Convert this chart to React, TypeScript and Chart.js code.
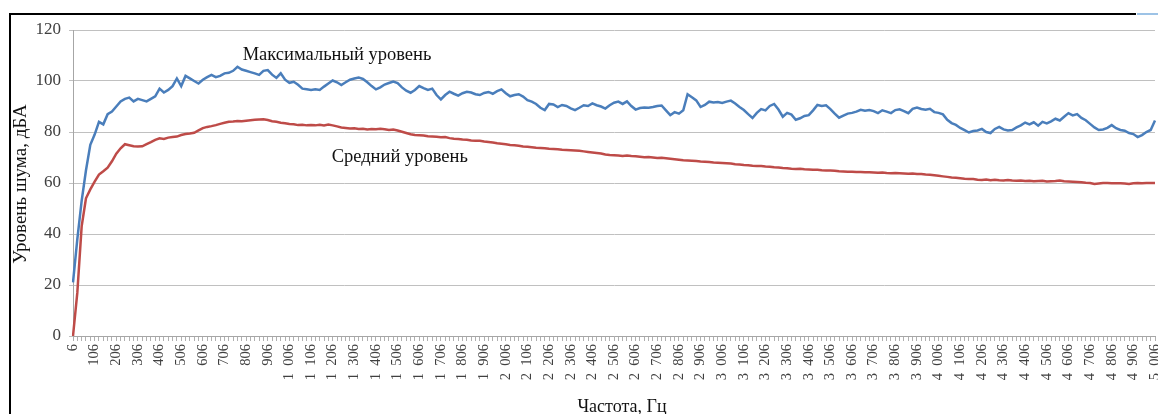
import { useEffect, useRef } from 'react';
import { Chart, registerables } from 'chart.js';

Chart.register(...registerables);

// Frequency grid: 6 Hz .. 5006 Hz, one sample every 20 Hz
const FREQ_START = 6;
const FREQ_STEP = 20;

// Максимальный уровень, дБА
const MAX_LEVEL = [
  21, 38, 53, 65, 75, 79, 84, 83, 87, 88,
  90, 92, 93, 93.5, 92, 93, 92.5, 92, 93, 94,
  97, 95.5, 96.5, 98, 101, 98, 102, 101, 100, 99,
  100.5, 101.5, 102.4, 101.5, 102, 103, 103.2, 104, 105.6, 104.5,
  104, 103.5, 103, 102.4, 104, 104.3, 102.5, 101.2, 103, 100.5,
  99.3, 99.7, 98.5, 97, 96.8, 96.5, 96.8, 96.5, 97.8, 99,
  100.2, 99.5, 98.4, 99.5, 100.5, 101, 101.4, 100.8, 99.5, 98,
  96.7, 97.5, 98.6, 99.2, 99.8, 99.2, 97.5, 96.2, 95.4, 96.5,
  98, 97.2, 96.5, 97, 94.5, 92.8, 94.5, 95.8, 95, 94.3,
  95.2, 95.8, 95.5, 94.8, 94.5, 95.3, 95.7, 95, 96, 96.7,
  95.2, 94, 94.5, 94.8, 93.9, 92.5, 91.9, 91, 89.5, 88.6,
  91, 90.8, 89.8, 90.6, 90.2, 89.3, 88.6, 89.5, 90.5, 90.2,
  91.2, 90.5, 90, 89.2, 90.5, 91.5, 91.9, 91, 92, 90.2,
  88.8, 89.4, 89.6, 89.5, 89.8, 90.2, 90.4, 88.5, 86.6, 87.8,
  87.2, 88.5, 94.8, 93.6, 92.4, 89.8, 90.6, 91.9, 91.6, 91.8,
  91.4, 91.9, 92.3, 91.2, 89.8, 88.6, 87, 85.5, 87.5, 89,
  88.5, 90.2, 91, 88.8, 86, 87.5, 86.8, 84.8, 85.4, 86.3,
  86.6, 88.5, 90.6, 90.2, 90.5, 89, 87.2, 85.6, 86.4, 87.2,
  87.5, 88, 88.7, 88.3, 88.6, 88.2, 87.4, 88.5, 88, 87.4,
  88.6, 88.9, 88.2, 87.4, 89.1, 89.6, 89, 88.7, 89.1, 87.8,
  87.5, 86.9, 84.8, 83.5, 82.8, 81.6, 80.7, 79.8, 80.4, 80.6,
  81.2, 80, 79.6, 81.2, 82, 81, 80.6, 80.8, 81.8, 82.6,
  83.7, 83, 83.8, 82.5, 84, 83.4, 84.2, 85.2, 84.5, 86,
  87.4, 86.5, 87, 85.5, 84.6, 83.2, 81.8, 80.8, 81, 81.6,
  82.7, 81.5, 80.8, 80.5, 79.6, 79.2, 78, 78.8, 80, 80.8,
  84.5,
];

// Средний уровень, дБА
const MEAN_LEVEL = [
  0, 17, 43, 54, 57.5, 60.5, 63.3, 64.6, 66, 68.5,
  71.5, 73.6, 75.2, 74.8, 74.4, 74.3, 74.4, 75.2, 76, 76.9,
  77.5, 77.3, 77.8, 78, 78.2, 78.8, 79.2, 79.4, 79.7, 80.6,
  81.5, 82, 82.3, 82.7, 83.2, 83.6, 84, 84.1, 84.3, 84.2,
  84.4, 84.6, 84.8, 84.9, 85, 84.7, 84.2, 84, 83.6, 83.4,
  83.1, 83, 82.7, 82.8, 82.6, 82.7, 82.6, 82.8, 82.6, 82.9,
  82.6, 82.2, 81.8, 81.6, 81.4, 81.5, 81.2, 81.3, 81, 81.2,
  81.1, 81.3, 81.1, 80.8, 81, 80.6, 80.1, 79.6, 79.1, 78.8,
  78.7, 78.6, 78.3, 78.2, 78.1, 77.9, 78, 77.6, 77.4, 77.3,
  77.1, 77, 76.7, 76.6, 76.6, 76.3, 76.1, 75.9, 75.6, 75.4,
  75.2, 74.9, 74.8, 74.6, 74.3, 74.2, 74, 73.8, 73.7, 73.6,
  73.4, 73.3, 73.2, 73, 72.9, 72.8, 72.7, 72.6, 72.4, 72.2,
  72, 71.8, 71.6, 71.2, 71, 70.9, 70.8, 70.6, 70.8, 70.6,
  70.5, 70.3, 70.1, 70.2, 70, 69.8, 69.9, 69.7, 69.5, 69.3,
  69.1, 68.9, 68.8, 68.7, 68.6, 68.4, 68.3, 68.2, 68, 67.9,
  67.8, 67.7, 67.6, 67.4, 67.3, 67.1, 67, 66.8, 66.7, 66.7,
  66.5, 66.4, 66.2, 66.1, 65.9, 65.8, 65.6, 65.5, 65.6, 65.4,
  65.3, 65.2, 65.2, 65, 64.9, 64.9, 64.8, 64.6, 64.5, 64.4,
  64.4, 64.3, 64.3, 64.2, 64.2, 64.1, 64, 64.1, 63.9, 63.8,
  63.9, 63.8, 63.7, 63.6, 63.7, 63.5, 63.5, 63.3, 63.2, 63,
  62.8, 62.6, 62.4, 62.2, 62.1, 61.9, 61.7, 61.6, 61.6, 61.3,
  61.2, 61.4, 61.1, 61.3, 61.1, 61, 61.2, 61, 60.9, 61,
  60.8, 60.9, 60.7, 60.8, 60.9, 60.6, 60.7, 60.8, 61, 60.7,
  60.6, 60.5, 60.4, 60.3, 60.1, 60, 59.6, 59.8, 60, 60,
  59.9, 59.9, 59.9, 59.8, 59.6, 59.9, 60, 59.9, 60, 60,
  60,
];

// Tick labels every 100 Hz (every 5th sample)
const TICK_LABELS = [
  '6', '106', '206', '306', '406', '506', '606', '706', '806', '906',
  '1 006', '1 106', '1 206', '1 306', '1 406', '1 506', '1 606', '1 706', '1 806', '1 906',
  '2 006', '2 106', '2 206', '2 306', '2 406', '2 506', '2 606', '2 706', '2 806', '2 906',
  '3 006', '3 106', '3 206', '3 306', '3 406', '3 506', '3 606', '3 706', '3 806', '3 906',
  '4 006', '4 106', '4 206', '4 306', '4 406', '4 506', '4 606', '4 706', '4 806', '4 906',
  '5 006',
];
const LABEL_EVERY = 5;

const Y_MIN = 0;
const Y_MAX = 120;
const Y_STEP = 20;

const SERIES_NAMES = ['Максимальный уровень', 'Средний уровень'];
const X_TITLE = 'Частота, Гц';
const Y_TITLE = 'Уровень шума, дБА';

// Anchors of the in-chart labels: [category index, value]
const MAX_LABEL_AT = [61, 110.2];
const MEAN_LABEL_AT = [75.5, 70.2];

const CATEGORIES = MAX_LEVEL.map((_, i) => String(FREQ_START + FREQ_STEP * i));

const FONT = '"Liberation Serif", "Times New Roman", serif';

const overlayPlugin = {
  id: 'overlay',
  afterDraw(chart: any) {
    const { ctx, scales } = chart;
    const xs = scales.x;
    const ys = scales.y;
    const area = chart.chartArea;
    ctx.save();
    // frame
    ctx.strokeStyle = '#000000';
    ctx.lineWidth = 2;
    ctx.beginPath();
    ctx.moveTo(10, 414);
    ctx.lineTo(10, 14);
    ctx.lineTo(1136, 14);
    ctx.stroke();
    ctx.strokeStyle = '#9dc3e6';
    ctx.beginPath();
    ctx.moveTo(1137, 14);
    ctx.lineTo(1158, 14);
    ctx.stroke();

    // in-chart labels
    ctx.fillStyle = '#111111';
    ctx.font = `18.5px ${FONT}`;
    ctx.textAlign = 'center';
    ctx.textBaseline = 'middle';
    ctx.fillText(SERIES_NAMES[0], xs.getPixelForValue(MAX_LABEL_AT[0]), ys.getPixelForValue(MAX_LABEL_AT[1]));
    ctx.fillText(SERIES_NAMES[1], xs.getPixelForValue(MEAN_LABEL_AT[0]), ys.getPixelForValue(MEAN_LABEL_AT[1]));

    // axis titles
    ctx.font = `18px ${FONT}`;
    ctx.fillText(X_TITLE, (area.left + area.right) / 2 + 8, 407);
    ctx.font = `19px ${FONT}`;
    ctx.save();
    ctx.translate(21, (area.top + area.bottom) / 2 + 1);
    ctx.rotate(-Math.PI / 2);
    ctx.fillText(Y_TITLE, 0, 0);
    ctx.restore();
    ctx.restore();
  },
};

export default function App() {
  const canvasRef = useRef<HTMLCanvasElement | null>(null);

  useEffect(() => {
    const canvas = canvasRef.current;
    if (!canvas) return;
    const chart = new Chart(canvas, {
      type: 'line',
      data: {
        labels: CATEGORIES,
        datasets: [
          {
            label: SERIES_NAMES[0],
            data: MAX_LEVEL,
            borderColor: '#4a7ebb',
            borderWidth: 2.5,
            pointRadius: 0,
            tension: 0,
            fill: false,
          },
          {
            label: SERIES_NAMES[1],
            data: MEAN_LEVEL,
            borderColor: '#be4b48',
            borderWidth: 2.5,
            pointRadius: 0,
            tension: 0,
            fill: false,
          },
        ],
      },
      options: {
        animation: false,
        responsive: false,
        devicePixelRatio: 1,
        layout: { padding: { top: 30, right: 3, left: 0, bottom: 0 } },
        plugins: {
          legend: { display: false },
          tooltip: { enabled: false },
        },
        scales: {
          x: {
            type: 'category',
            offset: false,
            grid: {
              display: true,
              drawOnChartArea: false,
              drawTicks: true,
              tickLength: 5,
              color: '#b0b0b0',
              lineWidth: 1,
            },
            border: { display: true, color: '#a6a6a6' },
            ticks: {
              autoSkip: false,
              minRotation: 90,
              maxRotation: 90,
              padding: 3,
              color: '#404040',
              font: { family: FONT, size: 14.5 },
              callback: (_v: any, index: number) =>
                index % LABEL_EVERY === 0 ? TICK_LABELS[index / LABEL_EVERY].replace(' ', '\u2007') : '',
            },
            afterFit: (s: any) => {
              s.height = 78;
              s.paddingLeft = 0;
              s.paddingRight = 0;
            },
          },
          y: {
            min: Y_MIN,
            max: Y_MAX,
            grid: { color: '#c0c0c0', lineWidth: 1, tickLength: 4 },
            border: { display: true, color: '#a6a6a6' },
            ticks: {
              stepSize: Y_STEP,
              padding: 8,
              color: '#404040',
              font: { family: FONT, size: 17 },
            },
            afterFit: (s: any) => {
              s.width = 73;
              s.paddingTop = 0;
              s.paddingBottom = 0;
            },
          },
        },
      },
      plugins: [overlayPlugin],
    });
    return () => chart.destroy();
  }, []);

  return (
    <div style={{ position: 'fixed', left: 0, top: 0, width: 1158, height: 414, background: '#ffffff' }}>
      <canvas ref={canvasRef} width={1158} height={414} style={{ width: 1158, height: 414 }} />
    </div>
  );
}
